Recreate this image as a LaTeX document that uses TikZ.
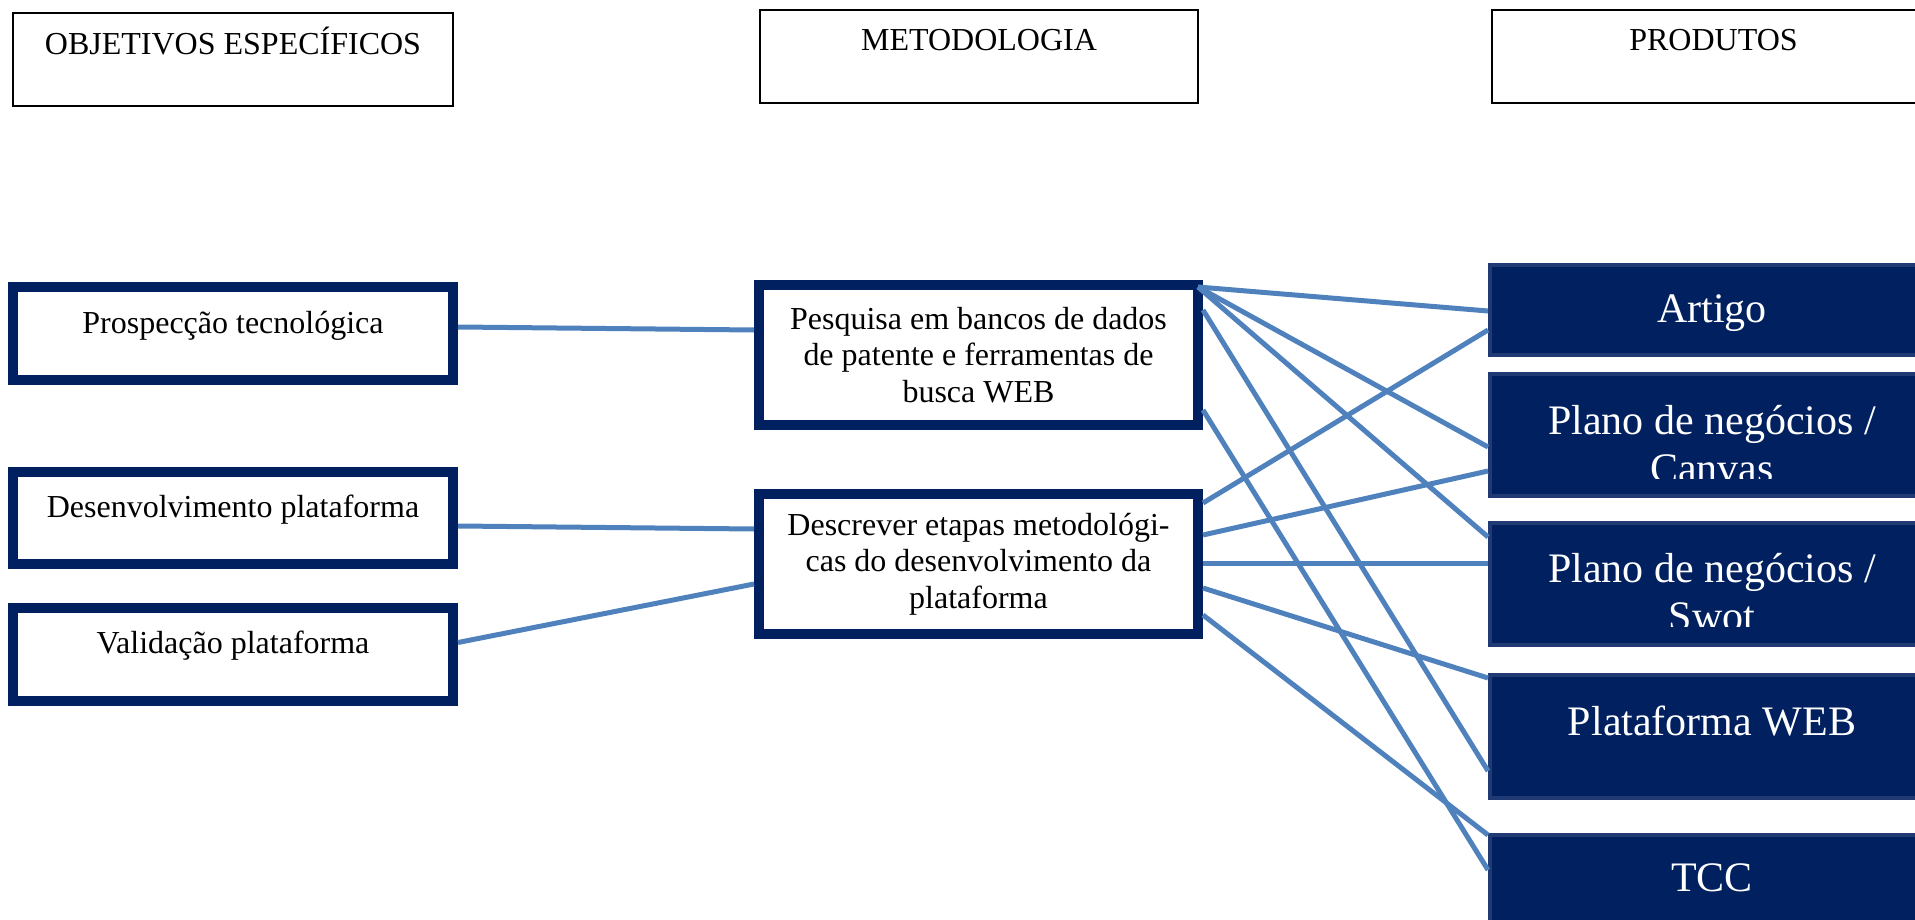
\documentclass[tikz,border=0pt]{standalone}
\usepackage{fontspec}
\setmainfont{Liberation Serif}
\usetikzlibrary{positioning,calc}

\definecolor{navy}{RGB}{0,32,96}
\definecolor{prodedge}{RGB}{33,58,115}
\definecolor{linkblue}{RGB}{79,129,189}

\begin{document}
\begin{tikzpicture}[x=1pt,y=-1pt,
    headbox/.style={draw=black, line width=2pt, fill=white,
        minimum height=93pt},
    objbox/.style={draw=navy, line width=10pt, fill=white,
        minimum width=440pt, minimum height=93pt},
    metbox/.style={draw=navy, line width=10pt, fill=white,
        minimum width=439pt, minimum height=140pt, align=center,
        font=\fontsize{32}{36.5}\selectfont},
    prodbox/.style={draw=prodedge, line width=4pt, fill=navy,
        minimum width=444pt},
    smalltext/.style={inner sep=0pt, font=\fontsize{32}{36.5}\selectfont},
    prodtext/.style={inner sep=0pt, text=white, align=center,
        font=\fontsize{42}{48}\selectfont},
    link/.style={draw=linkblue, line width=5pt,
        preaction={draw=black!45, opacity=.25, line width=6pt,
            transform canvas={shift={(1.5pt,-3pt)}}}}]

        \useasboundingbox (0,0) rectangle (1915,920);
        \clip (0,0) rectangle (1915,920);

        % column headers
        \node (objh) [headbox, minimum width=440pt] at (233,59.5) {};
        \node (meth) [headbox, minimum width=438pt] at (979,56.5) {};
        \node (prodh) [headbox, minimum width=443pt] at (1713.5,56.5) {};
        \node (objh-t) [smalltext, below=42.5pt of objh.north, anchor=base]
        {OBJETIVOS ESPECÍFICOS};
        \node (meth-t) [smalltext, below=42pt of meth.north, anchor=base]
        {METODOLOGIA};
        \node (prodh-t) [smalltext, below=42pt of prodh.north, anchor=base]
        {PRODUTOS};

        % objetivos
        \node (prosp) [objbox] at (233,333.5) {};
        \node (desenv) [objbox, minimum height=92pt] at (233,518) {};
        \node (valid) [objbox] at (233,654.5) {};
        \node (prosp-t) [smalltext, below=51pt of prosp.north, anchor=base]
        {Prospecção tecnológica};
        \node (desenv-t) [smalltext, below=50pt of desenv.north, anchor=base]
        {Desenvolvimento plataforma};
        \node (valid-t) [smalltext, below=50pt of valid.north, anchor=base]
        {Validação plataforma};

        % metodologia
        \node (pesq) [metbox] at (978.5,355)
        {Pesquisa em bancos de dados\\de patente e ferramentas de\\busca WEB};
        \node (descr) [metbox] at (978.5,564)
        {Descrever etapas metodológi-\\cas do desenvolvimento da\\plataforma};

        % produtos
        \node (art) [prodbox, minimum height=90pt] at (1712,310) {};
        \node (canv) [prodbox, minimum height=122pt] at (1712,435) {};
        \node (swot) [prodbox, minimum height=122pt] at (1712,584) {};
        \node (web) [prodbox, minimum height=123pt] at (1712,736.5) {};
        \node (tcc) [prodbox, minimum height=125pt] at (1712,897.5) {};
        \node (art-t) [prodtext, below=60pt of art.north, anchor=base]
        {Artigo};
        \node (canv-t) [prodtext, below=33pt of canv.north]
        {Plano de negócios /\\Canvas};
        \node (swot-t) [prodtext, below=32pt of swot.north]
        {Plano de negócios /\\Swot};
        \node (web-t) [prodtext, below=62pt of web.north, anchor=base]
        {Plataforma WEB};
        \node (tcc-t) [prodtext, below=58pt of tcc.north, anchor=base]
        {TCC};

        % text cut off at the bottom of the boxes
        \fill[navy] ($(canv.south west)+(4,-4)$) rectangle
            ($(canv.south east)+(-4,-19)$);
        \fill[navy] ($(swot.south west)+(4,-4)$) rectangle
            ($(swot.south east)+(-4,-20)$);

        \begin{scope}[link]
            \draw ([yshift=6.5pt]prosp.east) -- ([yshift=25pt]pesq.west);
            \draw ([yshift=-8pt]desenv.east) -- ([yshift=35pt]descr.west);
            \draw ([yshift=12pt]valid.east) -- ([yshift=-20pt]descr.west);

            \draw ([shift={(-5pt,-7pt)}]pesq.north east) -- ([yshift=-1pt]art.west);
            \draw ([shift={(-5pt,-7pt)}]pesq.north east) -- ([yshift=-12pt]canv.west);
            \draw ([shift={(-5pt,-7pt)}]pesq.north east) -- ([yshift=47pt]swot.west);
            \draw ([yshift=45pt]pesq.east) -- ([yshift=-34.5pt]web.west);
            \draw ([yshift=-55pt]pesq.east) -- ([yshift=-37pt]tcc.north west);

            \draw ([yshift=61pt]descr.east) -- ([yshift=-20pt]art.west);
            \draw ([yshift=29pt]descr.east) -- ([yshift=-36pt]canv.west);
            \draw ([yshift=1pt]descr.east) -- ([yshift=21pt]swot.west);
            \draw ([yshift=-24pt]descr.east) -- ([yshift=58.5pt]web.west);
            \draw ([yshift=-51pt]descr.east) -- ([yshift=-2pt]tcc.north west);
        \end{scope}

\end{tikzpicture}
\end{document}
